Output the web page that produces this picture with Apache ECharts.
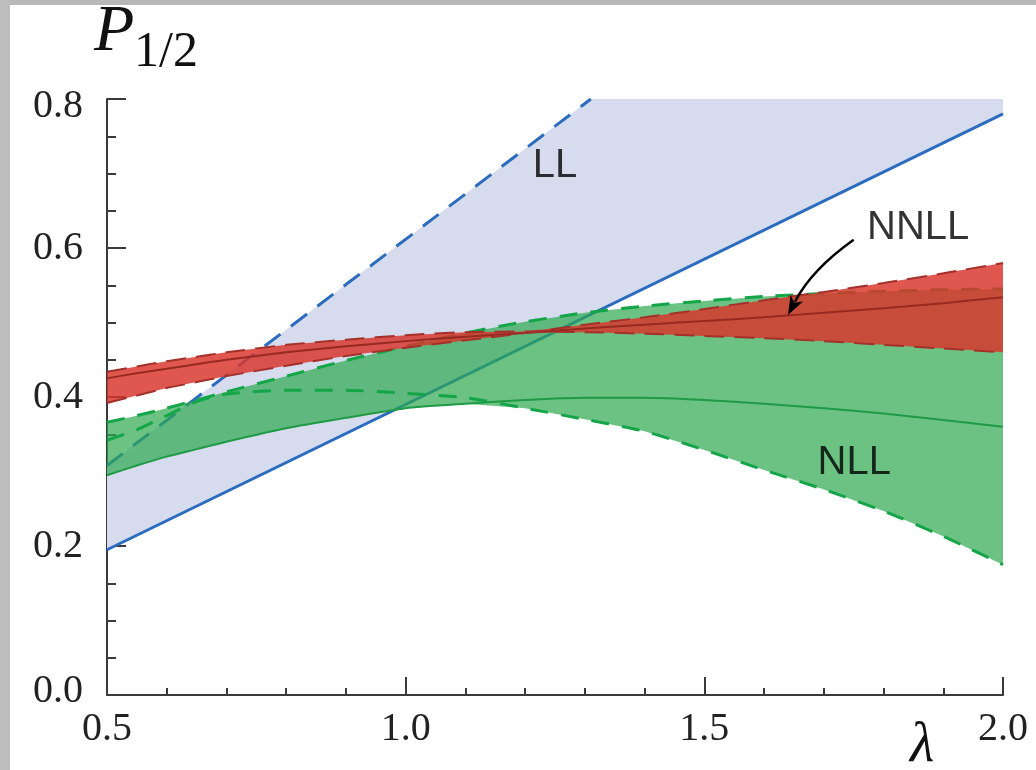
<!DOCTYPE html>
<html>
<head>
<meta charset="utf-8">
<script src="https://cdn.jsdelivr.net/npm/echarts@6/dist/echarts.min.js"></script>
<style>
  html, body { margin: 0; padding: 0; background: #fff; }
  #chart { width: 1036px; height: 770px; }
</style>
</head>
<body>
<div id="chart"></div>
<script>
// lambda grid shared by the NLL / NNLL curves
const xs = [0.5, 0.55, 0.6, 0.65, 0.7, 0.8, 0.9, 1.0, 1.1, 1.2, 1.3, 1.4, 1.5, 1.6, 1.7, 1.8, 1.9, 2.0]

// NLL (green): central value and the two scale variations
const nllCentral = [0.295, 0.308, 0.320, 0.330, 0.340, 0.358, 0.372, 0.385, 0.391, 0.396, 0.399, 0.399, 0.396, 0.391, 0.385, 0.378, 0.369, 0.360]
const nllA = [0.366, 0.375, 0.385, 0.396, 0.407, 0.428, 0.449, 0.468, 0.486, 0.501, 0.513, 0.522, 0.529, 0.535, 0.539, 0.542, 0.544, 0.545]
const nllB = [0.342, 0.356, 0.375, 0.394, 0.404, 0.409, 0.409, 0.405, 0.399, 0.385, 0.370, 0.354, 0.329, 0.302, 0.276, 0.247, 0.213, 0.175]

// NNLL (red)
const nnllCentral = [0.425, 0.432, 0.438, 0.444, 0.450, 0.460, 0.468, 0.475, 0.481, 0.486, 0.492, 0.497, 0.502, 0.507, 0.513, 0.519, 0.526, 0.534]
const nnllX = [0.392, 0.402, 0.412, 0.420, 0.428, 0.442, 0.455, 0.466, 0.476, 0.486, 0.497, 0.507, 0.518, 0.530, 0.541, 0.553, 0.566, 0.580]
const nnllY = [0.434, 0.441, 0.448, 0.454, 0.460, 0.470, 0.477, 0.483, 0.487, 0.488, 0.487, 0.485, 0.482, 0.479, 0.475, 0.470, 0.465, 0.460]

// LL (blue): straight lower edge, dashed upper edge clipped at the frame top
const llLowerX = [0.5, 2.0]
const llLowerY = [0.195, 0.78]
const llUpperX = [0.5, 1.31]
const llUpperY = [0.308, 0.8]
const llTopX = [0.5, 1.31, 2.0]
const llTopY = [0.308, 0.8, 0.8]

// band labels and arrow
const bandNames = ['LL', 'NLL', 'NNLL']
const bandLabelPos = [[1.25, 0.71], [1.751, 0.311], [1.858, 0.627]]
const arrowFrom = [1.75, 0.611]
const arrowTo = [1.64, 0.51]

const pairs = (x, y) => x.map((v, i) => [v, y[i]])

const nllLow = xs.map((_, i) => Math.min(nllCentral[i], nllA[i], nllB[i]))
const nllHigh = xs.map((_, i) => Math.max(nllCentral[i], nllA[i], nllB[i]))
const nnllLow = xs.map((_, i) => Math.min(nnllCentral[i], nnllX[i], nnllY[i]))
const nnllHigh = xs.map((_, i) => Math.max(nnllCentral[i], nnllX[i], nnllY[i]))

const band = (name, lower, upper, fill, z) => ({
  type: 'custom',
  name,
  z,
  silent: true,
  data: [0],
  renderItem: (params, api) => {
    const pts = lower.concat(upper.slice().reverse()).map((p) => api.coord(p))
    return { type: 'polygon', shape: { points: pts }, style: { fill } }
  }
})

const curve = (name, data, color, width, dash, z) => ({
  type: 'line',
  name,
  z,
  data,
  smooth: 0.2,
  showSymbol: false,
  silent: true,
  lineStyle: { color, width, type: dash ? [dash[0], dash[1]] : 'solid' }
})

// curved arrow between two data points (bulging to the upper left)
const arrowSeries = {
  type: 'custom',
  name: 'arrow',
  z: 10,
  silent: true,
  data: [[arrowFrom[0], arrowFrom[1], arrowTo[0], arrowTo[1]]],
  renderItem: (params, api) => {
    const a = api.coord([api.value(0), api.value(1)])
    const b = api.coord([api.value(2), api.value(3)])
    const dx = b[0] - a[0]
    const dy = b[1] - a[1]
    const bend = 0.12
    const cp = [(a[0] + b[0]) / 2 - dy * bend, (a[1] + b[1]) / 2 + dx * bend]
    const tx = b[0] - cp[0]
    const ty = b[1] - cp[1]
    const tl = Math.hypot(tx, ty)
    const ux = tx / tl
    const uy = ty / tl
    const headLen = 19
    const headW = 7
    const base = [b[0] - ux * headLen, b[1] - uy * headLen]
    return {
      type: 'group',
      children: [
        {
          type: 'bezierCurve',
          shape: { x1: a[0], y1: a[1], x2: base[0] + ux * 4, y2: base[1] + uy * 4, cpx1: cp[0], cpy1: cp[1] },
          style: { stroke: '#000', lineWidth: 2.5, fill: null }
        },
        {
          type: 'polygon',
          shape: {
            points: [
              b,
              [base[0] - uy * headW, base[1] + ux * headW],
              [base[0] + ux * 5, base[1] + uy * 5],
              [base[0] + uy * headW, base[1] - ux * headW]
            ]
          },
          style: { fill: '#000' }
        }
      ]
    }
  }
}

const serif = 'Liberation Serif'
const axisColor = '#3a3a3a'
const tickFont = { fontFamily: serif, fontSize: 40, color: '#222' }

const chart = echarts.init(document.getElementById('chart'))

chart.setOption({
  backgroundColor: '#fff',
  animation: false,
  grid: { left: 107, right: 33, top: 99, bottom: 75 },
  xAxis: {
    type: 'value',
    min: 0.5,
    max: 2.0,
    interval: 0.5,
    axisLine: { lineStyle: { color: axisColor, width: 2 } },
    axisTick: { inside: true, length: 18, lineStyle: { color: axisColor, width: 2 } },
    minorTick: { show: true, splitNumber: 5, length: 7, lineStyle: { color: axisColor, width: 2 } },
    splitLine: { show: false },
    axisLabel: {
      ...tickFont,
      margin: 14,
      formatter: (v) => v.toFixed(1)
    }
  },
  yAxis: {
    type: 'value',
    min: 0,
    max: 0.8,
    interval: 0.2,
    axisLine: { show: true, lineStyle: { color: axisColor, width: 2 } },
    axisTick: { show: true, inside: true, length: 19, lineStyle: { color: axisColor, width: 2 } },
    minorTick: { show: true, splitNumber: 4, length: 9, lineStyle: { color: axisColor, width: 2 } },
    splitLine: { show: false },
    axisLabel: {
      ...tickFont,
      margin: 24,
      formatter: (v) => {
        if (v >= 0.8) return '{hi|' + v.toFixed(1) + '}'
        if (v <= 0) return '{lo|' + v.toFixed(1) + '}'
        return v.toFixed(1)
      },
      rich: {
        hi: { ...tickFont, padding: [14, 0, 0, 0] },
        lo: { ...tickFont, padding: [0, 0, 8, 0] }
      }
    }
  },
  graphic: [
    { type: 'rect', shape: { x: 0, y: 0, width: 1036, height: 5 }, style: { fill: '#b8b8b8' }, silent: true },
    { type: 'rect', shape: { x: 0, y: 0, width: 10, height: 770 }, style: { fill: '#bdbdbd' }, silent: true },
    {
      type: 'text', left: 94, top: 0, silent: true,
      style: { text: 'P', fontFamily: serif, fontStyle: 'italic', fontSize: 66, fill: '#111' }
    },
    {
      type: 'text', left: 134, top: 28, silent: true,
      style: { text: '1/2', fontFamily: serif, fontSize: 50, fill: '#111' }
    },
    {
      type: 'text', left: 910, top: 718, silent: true,
      style: { text: 'λ', fontFamily: serif, fontStyle: 'italic', fontSize: 56, fill: '#111' }
    }
  ],
  series: [
    band('LL band', pairs(llLowerX, llLowerY), pairs(llTopX, llTopY), '#d6dcee', 1),
    curve('LL lower', pairs(llLowerX, llLowerY), '#2b6cbf', 3, null, 2),
    curve('LL upper', pairs(llUpperX, llUpperY), '#2b6cbf', 3, [20, 13], 2),

    band('NLL band', pairs(xs, nllLow), pairs(xs, nllHigh), 'rgba(44,168,79,0.7)', 3),
    curve('NLL central', pairs(xs, nllCentral), '#1f9a45', 2, null, 4),
    curve('NLL scale a', pairs(xs, nllA), '#14a548', 3, [18, 13], 4),
    curve('NLL scale b', pairs(xs, nllB), '#14a548', 3, [18, 13], 4),

    band('NNLL band', pairs(xs, nnllLow), pairs(xs, nnllHigh), 'rgba(218,53,43,0.83)', 5),
    curve('NNLL central', pairs(xs, nnllCentral), '#962a22', 2, null, 6),
    curve('NNLL scale a', pairs(xs, nnllX), '#a3302a', 2, [20, 10], 6),
    curve('NNLL scale b', pairs(xs, nnllY), '#a3302a', 2, [20, 10], 6),

    {
      type: 'scatter',
      name: 'labels',
      z: 8,
      silent: true,
      symbolSize: 0,
      data: bandLabelPos.map((p, i) => [p[0], p[1], bandNames[i]]),
      label: {
        show: true,
        position: 'inside',
        formatter: (p) => p.value[2],
        fontFamily: 'Liberation Sans',
        fontSize: 40,
        color: '#000'
      }
    },
    arrowSeries
  ]
})
</script>
</body>
</html>
